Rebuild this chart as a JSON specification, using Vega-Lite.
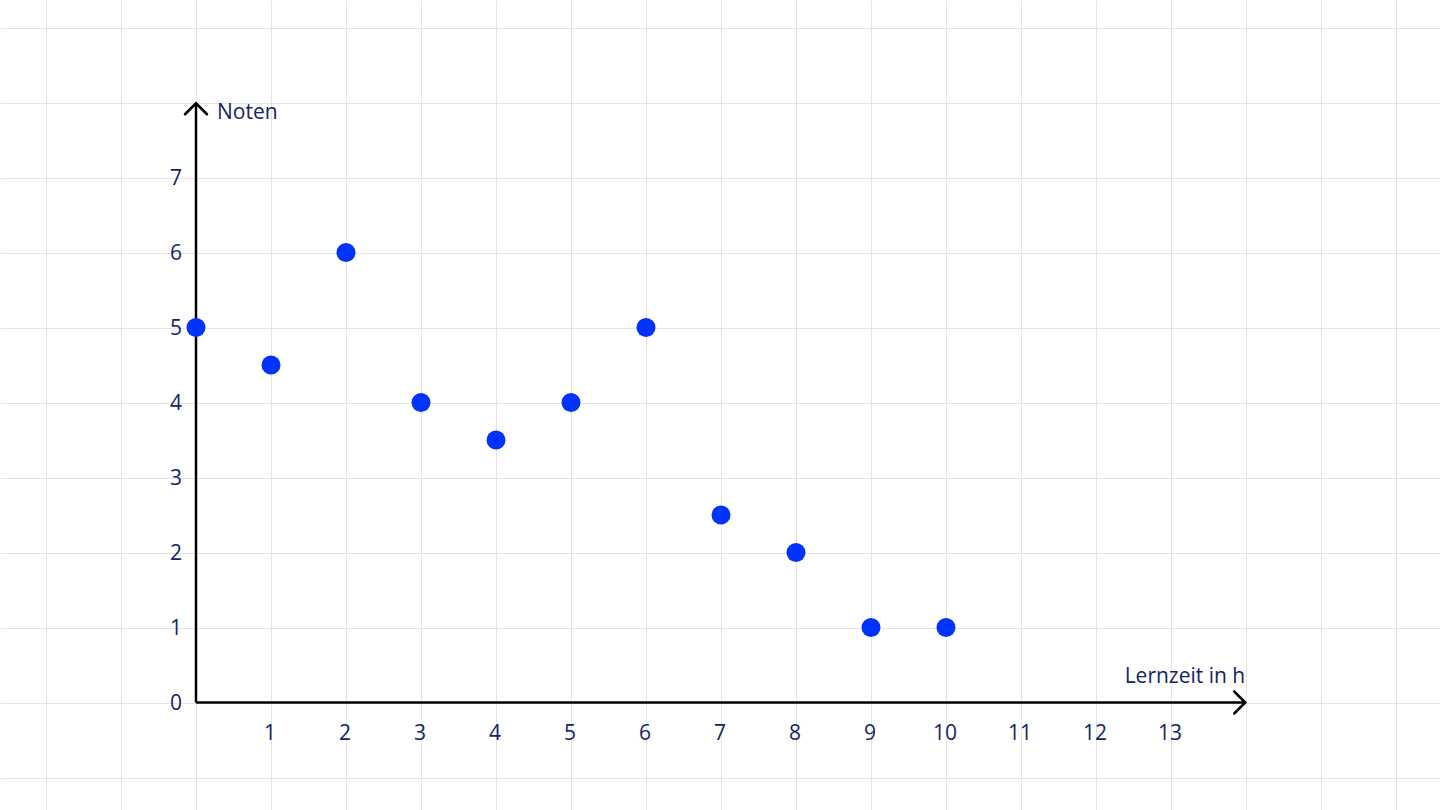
{
  "$schema": "https://vega.github.io/schema/vega-lite/v6.json",
  "width": 1440,
  "height": 810,
  "padding": 0,
  "autosize": {"type": "fit", "contains": "padding"},
  "background": "white",
  "config": {"view": {"stroke": null}},
  "datasets": {
    "points": [
      {"lernzeit": 0, "note": 5},
      {"lernzeit": 1, "note": 4.5},
      {"lernzeit": 2, "note": 6},
      {"lernzeit": 3, "note": 4},
      {"lernzeit": 4, "note": 3.5},
      {"lernzeit": 5, "note": 4},
      {"lernzeit": 6, "note": 5},
      {"lernzeit": 7, "note": 2.5},
      {"lernzeit": 8, "note": 2},
      {"lernzeit": 9, "note": 1},
      {"lernzeit": 10, "note": 1}
    ],
    "xlabels": [
      {"v": 1}, {"v": 2}, {"v": 3}, {"v": 4}, {"v": 5}, {"v": 6}, {"v": 7},
      {"v": 8}, {"v": 9}, {"v": 10}, {"v": 11}, {"v": 12}, {"v": 13}
    ],
    "ylabels": [
      {"v": 0}, {"v": 1}, {"v": 2}, {"v": 3}, {"v": 4}, {"v": 5}, {"v": 6}, {"v": 7}
    ]
  },
  "layer": [
    {
      "data": {"name": "points"},
      "mark": {"type": "point", "opacity": 0},
      "encoding": {
        "x": {
          "field": "lernzeit", "type": "quantitative",
          "scale": {"domain": [-2.6133, 16.5867], "nice": false, "zero": false},
          "axis": {"grid": true, "gridColor": "#e4e4e4", "gridWidth": 1, "labels": false, "ticks": false, "domain": false, "title": null,
                   "values": [-2,-1,0,1,2,3,4,5,6,7,8,9,10,11,12,13,14,15,16]}
        },
        "y": {
          "field": "note", "type": "quantitative",
          "scale": {"domain": [-1.4333, 9.3667], "nice": false, "zero": false},
          "axis": {"grid": true, "gridColor": "#e4e4e4", "gridWidth": 1, "labels": false, "ticks": false, "domain": false, "title": null,
                   "values": [-1,0,1,2,3,4,5,6,7,8,9]}
        }
      }
    },
    {
      "data": {"values": [{"x": 0, "x2": 13.99, "y": 0}]},
      "mark": {"type": "rule", "color": "#000000", "strokeWidth": 2.5},
      "encoding": {
        "x": {"field": "x", "type": "quantitative"},
        "x2": {"field": "x2"},
        "y": {"field": "y", "type": "quantitative"}
      }
    },
    {
      "data": {"values": [{"x": 0, "y": 0, "y2": 7.99}]},
      "mark": {"type": "rule", "color": "#000000", "strokeWidth": 2.5},
      "encoding": {
        "x": {"field": "x", "type": "quantitative"},
        "y": {"field": "y", "type": "quantitative"},
        "y2": {"field": "y2"}
      }
    },
    {
      "data": {"values": [{"x": 13.99, "y": 0}]},
      "mark": {"type": "point", "shape": "M-1,-1L0,0L-1,1", "size": 484, "filled": false, "stroke": "#000000", "strokeWidth": 2.5, "opacity": 1, "strokeCap": "round", "strokeJoin": "miter"},
      "encoding": {
        "x": {"field": "x", "type": "quantitative"},
        "y": {"field": "y", "type": "quantitative"}
      }
    },
    {
      "data": {"values": [{"x": 0, "y": 7.99}]},
      "mark": {"type": "point", "shape": "M-1,1L0,0L1,1", "size": 484, "filled": false, "stroke": "#000000", "strokeWidth": 2.5, "opacity": 1, "strokeCap": "round", "strokeJoin": "miter"},
      "encoding": {
        "x": {"field": "x", "type": "quantitative"},
        "y": {"field": "y", "type": "quantitative"}
      }
    },
    {
      "data": {"name": "xlabels"},
      "mark": {"type": "text", "font": "Open Sans", "fontSize": 21, "color": "#142468", "align": "center", "baseline": "alphabetic", "dy": 37, "dx": -1},
      "encoding": {
        "x": {"field": "v", "type": "quantitative"},
        "y": {"datum": 0, "type": "quantitative"},
        "text": {"field": "v", "type": "quantitative"}
      }
    },
    {
      "data": {"name": "ylabels"},
      "mark": {"type": "text", "font": "Open Sans", "fontSize": 21, "color": "#142468", "align": "center", "baseline": "middle", "dx": -20, "dy": 1},
      "encoding": {
        "x": {"datum": 0, "type": "quantitative"},
        "y": {"field": "v", "type": "quantitative"},
        "text": {"field": "v", "type": "quantitative"}
      }
    },
    {
      "data": {"values": [{"x": 0, "y": 7.99, "t": "Noten"}]},
      "mark": {"type": "text", "font": "Open Sans", "fontSize": 21, "color": "#142468", "align": "left", "baseline": "alphabetic", "dx": 21, "dy": 16},
      "encoding": {
        "x": {"field": "x", "type": "quantitative"},
        "y": {"field": "y", "type": "quantitative"},
        "text": {"field": "t"}
      }
    },
    {
      "data": {"values": [{"x": 13.99, "y": 0, "t": "Lernzeit in h"}]},
      "mark": {"type": "text", "font": "Open Sans", "fontSize": 21, "color": "#142468", "align": "right", "baseline": "alphabetic", "dx": 0, "dy": -20},
      "encoding": {
        "x": {"field": "x", "type": "quantitative"},
        "y": {"field": "y", "type": "quantitative"},
        "text": {"field": "t"}
      }
    },
    {
      "data": {"name": "points"},
      "mark": {"type": "circle", "color": "#0033ff", "opacity": 1, "size": 361},
      "encoding": {
        "x": {"field": "lernzeit", "type": "quantitative"},
        "y": {"field": "note", "type": "quantitative"}
      }
    }
  ]
}
